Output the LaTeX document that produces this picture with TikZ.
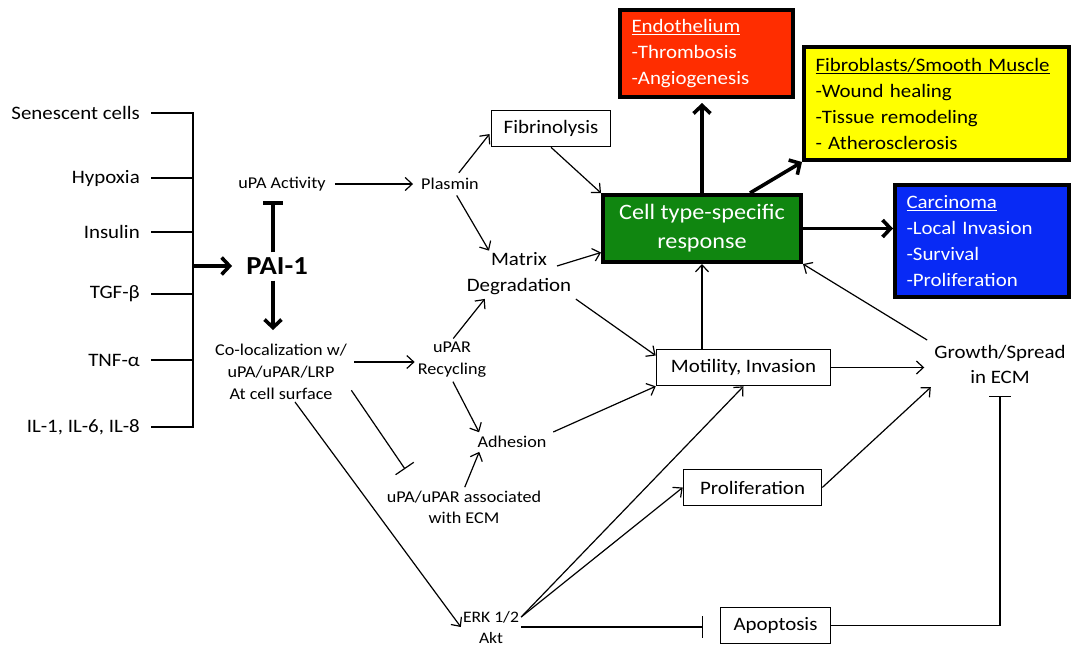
\documentclass[tikz,border=0pt]{standalone}
\usepackage{fontspec}
\setmainfont{Carlito}[FakeStretch=1.1]
\usetikzlibrary{arrows.meta}

\definecolor{endored}{RGB}{255,45,0}
\definecolor{fibroyellow}{RGB}{255,255,0}
\definecolor{carcblue}{RGB}{8,42,245}
\definecolor{cellgreen}{RGB}{16,134,16}

\tikzset{
	big/.style={font=\fontsize{19}{26}\selectfont},
	small/.style={font=\fontsize{16.5}{22}\selectfont},
	lbl/.style={big, inner sep=2pt},
	txt/.style={small, align=center, inner sep=2pt},
	whitebox/.style={draw, line width=1.6pt, fill=white, big, inner sep=0pt, minimum height=36pt},
	colbox/.style={draw, line width=4pt, align=left, inner xsep=11.5pt, inner ysep=0pt, big},
	brace/.style={line width=2.8pt, line cap=rect},
	arr/.style={line width=1.2pt, -{Straight Barb[length=7pt,width=13pt]}},
	inh/.style={line width=1.2pt, -{Bar[width=22pt]}},
	fat/.style={line width=3.6pt, -{Straight Barb[length=8pt,width=17pt]}},
	fatbar/.style={line width=3.6pt, -{Bar[width=20pt]}}
}

\begin{document}
\begin{tikzpicture}[x=1pt, y=-1pt]
	\useasboundingbox (0,0) rectangle (1076,648);

	% Ausloeser links
	\coordinate (bartop) at (193,113);
	\coordinate (barbot) at (193,427);
	\foreach \nm/\yy/\tx in {sen/113/{Senescent cells}, hyp/178/Hypoxia, ins/232/Insulin,
		tgf/294/{TGF-β}, tnf/360/{TNF-α}, il/427/{IL-1, IL-6, IL-8}}
	{
		\node[lbl, anchor=east] (\nm) at (142,\yy) {\tx};
		\draw[brace] ([xshift=10pt]\nm.east) -- (\nm.east -| bartop);
	}
	\draw[brace] (bartop) -- (barbot);

	% PAI-1
	\node[font=\fontsize{26}{30}\selectfont\bfseries, inner sep=2pt] (pai) at (277,266) {PAI-1};
	\node[txt] (upa) at (282,184) {uPA Activity};
	\node[txt] (coloc) at (281,372) {Co-localization w/\\uPA/uPAR/LRP\\At cell surface};
	\draw[fat] (pai.west -| bartop) -- (pai.west) [shorten >=12pt];
	\draw[fatbar, shorten <=3pt, shorten >=8pt] ([xshift=-4pt]pai.north) -- ([xshift=-4pt]pai.north |- upa.south);
	\draw[fat, shorten <=4pt, shorten >=12pt] ([xshift=-4pt]pai.south) -- ([xshift=-4pt]pai.south |- coloc.north);

	% Mitte
	\node[txt] (plasmin) at (450,184) {Plasmin};
	\node[whitebox, minimum width=119pt] (fib) at (551,128.5) {Fibrinolysis};
	\node[lbl, align=center] (matrix) at (519,274) {Matrix\\Degradation};
	\node[txt] (upar) at (452,360) {uPAR\\Recycling};
	\node[txt] (adh) at (512,442) {Adhesion};
	\node[txt, font=\fontsize{16.5}{21}\selectfont] (ecm) at (464,507.5) {uPA/uPAR associated\\with ECM};
	\node[txt, font=\fontsize{16}{21}\selectfont] (erk) at (491,627) {ERK 1/2\\Akt};
	\coordinate (ecmbar) at (405,469);

	% Kaesten rechts
	\node[draw, line width=4pt, fill=cellgreen, text=white, align=center,
		minimum width=198pt, minimum height=67pt, inner sep=0pt,
		font=\fontsize{22}{29}\selectfont] (cell) at (702,228.5) {Cell type-specific\\response};
	\node[colbox, fill=endored, text=white, minimum width=173pt, minimum height=87pt,
		text width=150pt] (endo) at (706.5,53.5)
		{\underline{Endothelium}\\-Thrombosis\\-Angiogenesis};
	\node[colbox, fill=fibroyellow, minimum width=265pt, minimum height=113pt,
		text width=242pt] (fibro) at (936.5,103.5)
		{\underline{Fibroblasts/Smooth Muscle}\\-Wound healing\\-Tissue remodeling\\- Atherosclerosis};
	\node[colbox, fill=carcblue, text=white, minimum width=174pt, minimum height=112pt,
		text width=151pt] (carc) at (982,241)
		{\underline{Carcinoma}\\-Local Invasion\\-Survival\\-Proliferation};
	\node[whitebox, minimum width=174pt] (mot) at (743.5,367.5) {Motility, Invasion};
	\node[whitebox, minimum width=138pt] (prolif) at (752.5,487.5) {Proliferation};
	\node[whitebox, minimum width=110pt] (apop) at (775.5,625.5) {Apoptosis};
	\node[lbl, align=center, font=\fontsize{19}{25}\selectfont] (growth) at (1000,364.5) {Growth/Spread\\in ECM};

	% Pfeile
	\draw[arr, shorten <=7pt, shorten >=6pt] (upa.east) -- (plasmin.west);
	\draw[arr, shorten <=4pt, shorten >=2pt] (plasmin) -- ([yshift=-4pt]fib.west);
	\draw[arr, shorten <=4pt] (plasmin) -- ([xshift=-30pt]matrix.north);
	\draw[arr] (fib.south) -- (cell.north west);
	\draw[arr] ([xshift=38pt,yshift=8pt]matrix.center) -- ([yshift=-24pt]cell.west);
	\draw[arr, shorten <=3pt] (matrix.south east) -- ([yshift=12pt]mot.west);
	\draw[arr, shorten <=5pt, shorten >=1pt] ([yshift=10pt]coloc.east) -- ([yshift=10pt]coloc.east -| upar.west);
	\draw[arr, shorten <=2pt, shorten >=2pt] (upar.north) -- ([xshift=-33pt]matrix.south);
	\draw[arr, shorten <=2pt, shorten >=2pt] (upar.south) -- ([xshift=-32pt]adh.north);
	\draw[arr, shorten <=2pt, shorten >=2pt] (ecm.north) -- ([xshift=-32pt]adh.south);
	\draw[arr, shorten <=5pt] (adh.north east) -- (mot.south west);
	\draw[inh, shorten <=4pt] ([yshift=-15pt]coloc.east) -- (ecmbar);
	\draw[arr] ([xshift=14pt]coloc.south) -- (erk.west);
	\draw[arr] ([yshift=10pt]erk.east) -- (mot.south);
	\draw[arr] ([yshift=10pt]erk.east) -- (prolif.west);
	\draw[inh, shorten >=17pt] (erk.east) -- (erk.east -| apop.west);
	\draw[arr] (cell.south |- mot.north) -- (cell.south);
	\draw[arr, shorten >=8pt] (mot.east) -- (mot.east -| growth.west);
	\draw[arr, shorten <=6pt] (growth.north west) -- (cell.south east);
	\draw[arr, shorten >=2pt] (prolif.east) -- (growth.south west);
	\draw[inh, shorten >=10pt] (apop.east) -| (growth.south);

	% dicke Pfeile
	\draw[fat, shorten >=4pt] (cell.north) -- (cell.north |- endo.south);
	\draw[fat] ([xshift=48pt]cell.north) -- (fibro.south west);
	\draw[fat] (cell.east) -- (cell.east -| carc.west);
\end{tikzpicture}
\end{document}
